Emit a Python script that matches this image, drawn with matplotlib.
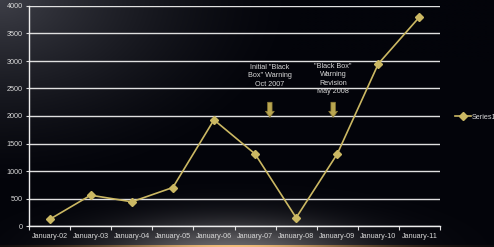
import numpy as np
import matplotlib
matplotlib.use("Agg")
import matplotlib.pyplot as plt
from matplotlib import font_manager

categories = ["January-02", "January-03", "January-04", "January-05", "January-06",
              "January-07", "January-08", "January-09", "January-10", "January-11"]
series1 = [120, 560, 440, 700, 1930, 1310, 150, 1310, 2950, 3800]
yticks = [0, 500, 1000, 1500, 2000, 2500, 3000, 3500, 4000]
notes = ['Initial "Black\nBox" Warning\nOct 2007', '"Black Box"\nWarning\nRevision\nMay 2008']
note_x = [5.36, 6.9]

names = {f.name for f in font_manager.fontManager.ttflist}
narrow = "Liberation Sans Narrow" in names
fam = ["Liberation Sans Narrow", "DejaVu Sans"] if narrow else ["Liberation Sans", "DejaVu Sans"]
plt.rcParams["font.family"] = fam
fs = 6.0 if narrow else 5.2

W, H = 494, 247
fig = plt.figure(figsize=(W / 100, H / 100), dpi=100)

# background gradient
yy, xx = np.mgrid[0:H, 0:W].astype(float)
base = np.array([3, 4, 10], float) / 255
d = np.sqrt((xx / 300.0) ** 2 + (yy / 190.0) ** 2)
tl = np.clip(1 - d, 0, 1) ** 1.5
glow = np.exp(-(((xx - 230) / 120.0) ** 2 + ((yy - 252) / 32.0) ** 2))
img = base[None, None, :] + tl[..., None] * np.array([0.23, 0.23, 0.24]) + glow[..., None] * np.array([0.40, 0.39, 0.38])
orange = np.exp(-((xx - 235) / 150.0) ** 2) * (yy >= 245)
img = img + orange[..., None] * np.array([0.55, 0.35, 0.08])
img = np.clip(img, 0, 1)
bg = fig.add_axes([0, 0, 1, 1])
bg.imshow(img, aspect="auto", extent=[0, 1, 0, 1], interpolation="bilinear")
bg.axis("off")

ax = fig.add_axes([29 / W, 21 / H, 411 / W, 220 / H])
ax.set_facecolor("none")
x = np.arange(len(categories))
ax.plot(x, series1, color="#cbb863", lw=1.2, marker="D", ms=3.8, mec="#cbb863", mfc="#cbb863", label="Series1")
ax.set_xlim(-0.5, len(categories) - 0.5)
ax.set_ylim(0, 4000)
ax.set_yticks(yticks)
ax.set_yticklabels([str(v) for v in yticks])
ax.set_xticks(x)
ax.set_xticklabels(categories)
ax.set_xticks(np.arange(-0.5, len(categories)), minor=True)
ax.tick_params(axis="x", which="major", length=0, pad=5, labelsize=fs, colors="#d8d8d8")
ax.tick_params(axis="x", which="minor", length=3, width=0.8, color="#dddddd", direction="out")
ax.tick_params(axis="y", length=2.5, width=0.8, color="#dddddd", labelsize=fs, labelcolor="#d8d8d8", pad=2)
ax.grid(axis="y", color="#e0e0e0", lw=1.0)
ax.set_axisbelow(True)
for s in ["top", "right"]:
    ax.spines[s].set_visible(False)
for s in ["left", "bottom"]:
    ax.spines[s].set_color("#eeeeee")
    ax.spines[s].set_linewidth(1.0)

# annotations
ax.text(note_x[0], 2730, notes[0], ha="center", va="center", fontsize=fs, color="#d8d8d8", linespacing=1.3)
ax.text(note_x[1], 2670, notes[1], ha="center", va="center", fontsize=fs, color="#d8d8d8", linespacing=1.3)
for nx in note_x:
    ax.annotate("", xy=(nx, 1975), xytext=(nx, 2250),
                arrowprops=dict(arrowstyle="simple,head_length=0.55,head_width=0.8,tail_width=0.4",
                                mutation_scale=8, shrinkA=0, shrinkB=0,
                                fc="#b9a650", ec="#8d7d38", lw=0.5))

leg = fig.legend(loc="center left", bbox_to_anchor=(452 / W, 1 - 117 / H), frameon=False,
                 fontsize=fs, handlelength=2.2, handletextpad=0.1, borderaxespad=0)
for t in leg.get_texts():
    t.set_color("#d8d8d8")

fig.savefig("out.png", dpi=100)
